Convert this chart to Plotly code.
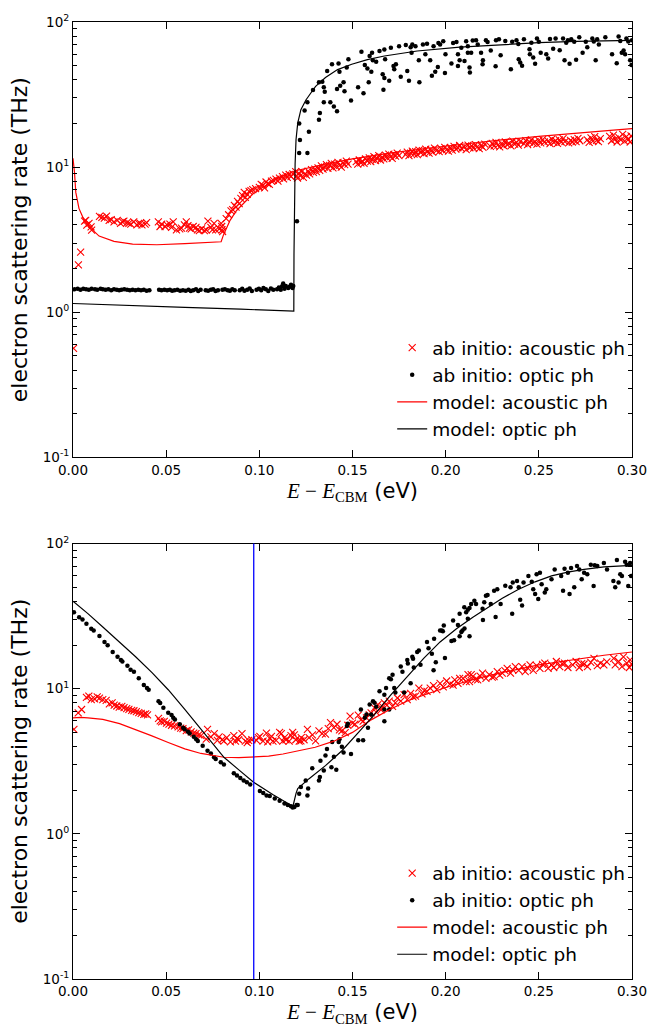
import plotly.graph_objects as go

FONT = "DejaVu Sans"

# ---------------- data: top panel ----------------
top_ac_abinitio = [
    (0.0003, 0.565), (0.0029, 2.12), (0.0041, 2.6), (0.0062, 4.24), (0.0068, 4.3), (0.0074, 3.98),
    (0.0086, 4.1), (0.0097, 3.88), (0.0100, 3.68), (0.0142, 4.58), (0.0155, 4.5), (0.0168, 4.45),
    (0.0180, 4.6), (0.0194, 4.3), (0.0205, 4.35), (0.0220, 4.2), (0.0237, 4.3), (0.0255, 4.1),
    (0.0265, 4.2), (0.0273, 4.25), (0.0290, 4.15), (0.0300, 4.1), (0.0310, 4.05), (0.0326, 4.2),
    (0.0343, 4.0), (0.0352, 4.1), (0.0361, 4.1), (0.0370, 4.0), (0.0387, 4.05), (0.0395, 4.15),
    (0.0458, 4.2), (0.0467, 3.9), (0.0476, 4.05), (0.0494, 3.9), (0.0505, 4.0), (0.0520, 4.05),
    (0.0529, 3.85), (0.0538, 4.2), (0.0555, 3.7), (0.0573, 3.75), (0.0582, 3.8), (0.0598, 4.0),
    (0.0608, 4.2), (0.0617, 3.95), (0.0625, 3.8), (0.0634, 3.75), (0.0645, 3.9), (0.0660, 3.85),
    (0.0668, 3.7), (0.0678, 3.65), (0.0690, 3.75), (0.0705, 3.65), (0.0715, 3.7), (0.0724, 4.25),
    (0.0740, 3.85), (0.0748, 3.7), (0.0757, 4.1), (0.0766, 3.7), (0.0785, 3.75), (0.0795, 4.1),
    (0.0798, 3.9), (0.0800, 3.7), (0.0803, 3.6),
    (0.0822, 4.42), (0.0835, 4.7), (0.0848, 5.0), (0.0857, 5.1), (0.0866, 5.45), (0.0875, 5.3),
    (0.0883, 5.8), (0.0892, 5.6), (0.0901, 6.1), (0.0910, 6.37), (0.0919, 6.7), (0.0925, 6.2),
    (0.0935, 6.5), (0.0945, 6.8), (0.0955, 6.9), (0.0965, 7.0), (0.0980, 7.1), (0.1000, 7.26),
    (0.1010, 7.6), (0.1019, 7.5), (0.1028, 7.2), (0.1036, 7.9), (0.1045, 7.7), (0.1054, 7.6),
    (0.1065, 8.0), (0.1075, 8.1), (0.1089, 8.28), (0.1100, 8.0), (0.1108, 8.4), (0.1124, 8.6),
    (0.1130, 8.3), (0.1142, 8.8), (0.1150, 8.5), (0.1160, 8.9), (0.1170, 8.6), (0.1180, 9.0),
    (0.1195, 9.3), (0.1200, 8.7),
    (0.1205, 8.4), (0.1212, 9.1), (0.1220, 8.7), (0.1228, 9.3), (0.1236, 8.5), (0.1245, 9.0),
    (0.1253, 8.8), (0.1262, 9.4), (0.1270, 9.0), (0.1280, 9.6), (0.1290, 9.2), (0.1298, 9.7),
    (0.1306, 9.3), (0.1315, 9.9), (0.1324, 9.5), (0.1333, 10.2), (0.1342, 9.7), (0.1350, 10.0),
    (0.1360, 10.4), (0.1368, 9.8), (0.1377, 10.3), (0.1386, 10.6), (0.1395, 9.9), (0.1404, 10.5),
    (0.1413, 10.1), (0.1422, 10.8), (0.1431, 10.3), (0.1440, 10.0), (0.1449, 10.7), (0.1458, 10.4),
    (0.1467, 11.0), (0.1476, 10.5),
    (0.1520, 10.9), (0.1528, 10.5), (0.1536, 11.2), (0.1545, 10.7), (0.1553, 11.0), (0.1562, 10.6),
    (0.1570, 11.4), (0.1580, 11.0), (0.1590, 11.6), (0.1598, 10.9), (0.1606, 11.3), (0.1615, 11.8),
    (0.1624, 11.1), (0.1632, 11.5), (0.1641, 12.0), (0.1650, 11.2), (0.1659, 11.7), (0.1668, 11.4),
    (0.1677, 12.1), (0.1686, 11.6), (0.1695, 12.3), (0.1704, 11.8), (0.1713, 11.5), (0.1722, 12.2),
    (0.1731, 11.9), (0.1740, 12.5), (0.1749, 12.0),
    (0.1785, 12.2), (0.1794, 12.7), (0.1803, 12.0), (0.1812, 12.5), (0.1821, 12.9), (0.1830, 12.3),
    (0.1839, 12.8), (0.1848, 12.2), (0.1857, 13.1), (0.1866, 12.6), (0.1875, 13.0), (0.1884, 12.4),
    (0.1893, 13.3), (0.1902, 12.8), (0.1911, 12.5), (0.1920, 13.2), (0.1930, 12.7), (0.1940, 13.5),
    (0.1950, 13.0),
    (0.1965, 12.8), (0.1975, 13.4), (0.1985, 13.0), (0.1995, 13.7), (0.2005, 13.2), (0.2015, 12.9),
    (0.2025, 13.6), (0.2035, 13.1), (0.2045, 13.9), (0.2055, 13.3), (0.2065, 13.6), (0.2075, 14.1),
    (0.2085, 13.4),
    (0.2100, 13.8), (0.2110, 13.2), (0.2120, 14.2), (0.2130, 13.6), (0.2140, 14.0), (0.2150, 13.5),
    (0.2160, 14.3), (0.2170, 13.8), (0.2180, 13.4), (0.2190, 14.1), (0.2200, 13.7), (0.2210, 14.4),
    (0.2240, 13.9), (0.2250, 14.6), (0.2260, 14.0), (0.2270, 14.8), (0.2280, 14.2), (0.2290, 13.8),
    (0.2300, 14.5), (0.2310, 14.1), (0.2320, 14.9), (0.2330, 14.3), (0.2340, 14.6), (0.2350, 14.0),
    (0.2360, 15.1), (0.2370, 14.4), (0.2380, 14.8), (0.2390, 14.2), (0.2400, 15.0),
    (0.2420, 14.5), (0.2430, 15.2), (0.2440, 14.3), (0.2450, 14.9), (0.2460, 15.4), (0.2470, 14.6),
    (0.2480, 15.0), (0.2490, 14.4), (0.2500, 15.3), (0.2510, 14.7), (0.2520, 15.5), (0.2530, 14.9),
    (0.2550, 15.1), (0.2560, 14.5), (0.2570, 15.6), (0.2580, 14.8), (0.2590, 15.2), (0.2600, 14.6),
    (0.2610, 15.4), (0.2620, 14.9), (0.2630, 15.7), (0.2640, 15.0),
    (0.2660, 14.7), (0.2670, 15.3), (0.2680, 14.9), (0.2690, 15.5), (0.2700, 15.0), (0.2710, 15.8),
    (0.2720, 15.2),
    (0.2760, 15.4), (0.2770, 14.8), (0.2780, 15.9), (0.2790, 15.1), (0.2800, 16.2), (0.2810, 15.3),
    (0.2820, 15.0), (0.2830, 15.7),
    (0.2880, 16.3), (0.2890, 15.2), (0.2900, 16.6), (0.2910, 15.6), (0.2920, 14.9), (0.2930, 16.0),
    (0.2940, 15.4), (0.2950, 16.8), (0.2960, 15.1), (0.2970, 16.2), (0.2980, 15.5), (0.2990, 14.9),
    (0.2995, 16.4),
]

top_op_abinitio = [
    (0.0008, 1.44), (0.0025, 1.45), (0.0040, 1.43), (0.0055, 1.45), (0.0070, 1.44), (0.0085, 1.43),
    (0.0100, 1.45), (0.0118, 1.44), (0.0130, 1.43), (0.0148, 1.45), (0.0160, 1.44), (0.0175, 1.43),
    (0.0190, 1.44), (0.0205, 1.42), (0.0220, 1.44), (0.0235, 1.43), (0.0248, 1.42), (0.0260, 1.43),
    (0.0275, 1.44), (0.0290, 1.43), (0.0305, 1.42), (0.0320, 1.43), (0.0335, 1.42), (0.0350, 1.43),
    (0.0365, 1.42), (0.0380, 1.43), (0.0395, 1.41), (0.0410, 1.42), (0.0462, 1.43), (0.0475, 1.42),
    (0.0490, 1.43), (0.0505, 1.42), (0.0520, 1.43), (0.0532, 1.41), (0.0545, 1.42), (0.0560, 1.43),
    (0.0575, 1.41), (0.0590, 1.42), (0.0605, 1.41), (0.0620, 1.43), (0.0632, 1.40), (0.0645, 1.42),
    (0.0660, 1.44), (0.0672, 1.40), (0.0685, 1.43), (0.0712, 1.42), (0.0725, 1.41), (0.0740, 1.43),
    (0.0752, 1.44), (0.0765, 1.40), (0.0778, 1.42), (0.0802, 1.43), (0.0815, 1.44), (0.0830, 1.42),
    (0.0842, 1.41), (0.0855, 1.44), (0.0868, 1.42), (0.0895, 1.42), (0.0908, 1.45), (0.0920, 1.41),
    (0.0935, 1.43), (0.0948, 1.46), (0.0960, 1.40), (0.0985, 1.43), (0.0998, 1.45), (0.1010, 1.42),
    (0.1022, 1.47), (0.1035, 1.44), (0.1048, 1.40), (0.1062, 1.46), (0.1075, 1.43), (0.1095, 1.44),
    (0.1105, 1.48), (0.1115, 1.43), (0.1122, 1.51), (0.1128, 1.58), (0.1135, 1.45), (0.1142, 1.52),
    (0.1155, 1.47), (0.1162, 1.50), (0.1170, 1.55), (0.1178, 1.47), (0.1182, 1.52), (0.1202, 4.24),
    (0.1214, 12.5), (0.1218, 15.4), (0.1214, 20.0), (0.1243, 24.6), (0.1258, 12.5), (0.1266, 17.5),
    (0.1258, 28.0), (0.1288, 34.0), (0.1320, 21.2), (0.1325, 23.6), (0.1320, 38.4), (0.1338, 38.8),
    (0.1346, 35.5), (0.1351, 33.1), (0.1346, 28.0), (0.1364, 46.0), (0.1381, 28.0), (0.1390, 51.2),
    (0.1400, 26.2), (0.1417, 24.3), (0.1417, 34.5), (0.1425, 51.7), (0.1430, 45.5), (0.1434, 36.4),
    (0.1452, 38.4), (0.1457, 33.3), (0.1469, 48.5), (0.1478, 55.3), (0.1492, 28.8), (0.1530, 35.5),
    (0.1548, 62.4), (0.1559, 32.3), (0.1566, 50.6), (0.1580, 47.8), (0.1587, 38.4), (0.1592, 58.3),
    (0.1601, 45.5), (0.1605, 61.4), (0.1609, 54.5), (0.1627, 53.3), (0.1645, 63.1), (0.1662, 43.7),
    (0.1666, 34.2), (0.1671, 41.1), (0.1671, 64.7), (0.1675, 55.3), (0.1697, 39.4), (0.1706, 66.4),
    (0.1720, 49.8), (0.1724, 47.3), (0.1733, 51.2), (0.1750, 68.2), (0.1759, 41.9), (0.1786, 69.3),
    (0.1794, 46.0), (0.1803, 39.4), (0.1812, 67.1), (0.1817, 61.4), (0.1821, 70.0), (0.1838, 68.0),
    (0.1856, 54.5), (0.1859, 38.4), (0.1878, 70.0), (0.1891, 59.9), (0.1900, 70.8), (0.1917, 54.5),
    (0.1926, 42.6), (0.1935, 68.0), (0.1944, 45.5), (0.1958, 49.0), (0.1961, 71.8), (0.1970, 70.0),
    (0.1987, 73.8), (0.1996, 44.5), (0.1999, 59.9), (0.2031, 51.7), (0.2040, 71.8),
    (0.2058, 72.9), (0.2066, 59.9), (0.2075, 54.5), (0.2066, 49.8), (0.2084, 66.4), (0.2101, 53.9),
    (0.2110, 73.8), (0.2119, 68.0), (0.2119, 61.4), (0.2128, 48.5), (0.2130, 44.9), (0.2137, 61.4),
    (0.2145, 74.6), (0.2163, 75.0), (0.2172, 70.0), (0.2190, 61.4), (0.2198, 51.2), (0.2200, 54.5),
    (0.2216, 75.0), (0.2225, 72.9), (0.2242, 63.7), (0.2268, 49.5), (0.2270, 75.0), (0.2286, 76.0),
    (0.2295, 59.0), (0.2320, 74.0), (0.2350, 47.3), (0.2357, 73.0), (0.2380, 75.0), (0.2390, 70.5),
    (0.2392, 55.3), (0.2400, 52.5), (0.2410, 50.0), (0.2420, 76.0), (0.2450, 65.0), (0.2452, 60.0),
    (0.2460, 72.0), (0.2470, 57.0), (0.2480, 51.5), (0.2490, 77.0), (0.2500, 73.0), (0.2510, 61.4),
    (0.2540, 60.0), (0.2550, 56.0), (0.2560, 76.5), (0.2577, 65.5), (0.2590, 77.0), (0.2612, 64.0),
    (0.2630, 77.0), (0.2638, 54.5), (0.2647, 72.0), (0.2656, 75.0), (0.2665, 51.5), (0.2674, 76.0),
    (0.2690, 73.0), (0.2700, 55.0), (0.2717, 78.4), (0.2735, 61.4), (0.2752, 73.0), (0.2760, 67.0),
    (0.2787, 77.0), (0.2795, 73.5), (0.2805, 54.5), (0.2813, 76.0), (0.2822, 70.0), (0.2857, 78.4),
    (0.2893, 60.0), (0.2918, 52.0), (0.2928, 79.5), (0.2937, 74.0), (0.2945, 61.4), (0.2955, 63.7),
    (0.2963, 60.0), (0.2970, 77.0), (0.2980, 73.5), (0.2990, 54.5), (0.2997, 50.5), (0.3000, 75.0),
]

top_ac_model_x = [0.0, 0.0008, 0.0015, 0.0032, 0.006, 0.0095, 0.014, 0.022, 0.032, 0.045, 0.06,
                  0.07, 0.0795, 0.0807, 0.0825, 0.0843, 0.0878, 0.0922, 0.0966, 0.1019, 0.1107,
                  0.1195, 0.1353, 0.15, 0.17, 0.19, 0.21, 0.23, 0.25, 0.27, 0.29, 0.3]
top_ac_model_y = [11.5, 9.2, 6.7, 5.2, 4.3, 3.8, 3.35, 3.08, 2.95, 2.92, 2.97,
                  3.01, 3.06, 3.4, 3.88, 4.3, 5.03, 5.74, 6.55, 7.26, 8.5,
                  9.44, 10.5, 11.4, 12.5, 13.5, 14.5, 15.4, 16.3, 17.2, 18.0, 18.4]

top_op_model_x = [0.0, 0.03, 0.06, 0.09, 0.1185, 0.1186, 0.1188, 0.1192, 0.1197, 0.1206, 0.1223,
                  0.125, 0.1285, 0.1302, 0.1355, 0.142, 0.1496, 0.158, 0.1671, 0.1847, 0.2076,
                  0.23, 0.25, 0.27, 0.3]
top_op_model_y = [1.15, 1.11, 1.08, 1.05, 1.02, 2.5, 6.0, 10.5, 15.5, 20.1, 24.9,
                  29.0, 33.6, 36.0, 41.5, 47.0, 51.2, 55.0, 58.3, 63.1, 67.1,
                  70.0, 72.0, 73.5, 74.6]

# ---------------- data: bottom panel ----------------
bot_ac_abinitio = [
    (0.0005, 5.25), (0.0028, 6.82), (0.0046, 7.19), (0.0072, 8.73), (0.0098, 8.41), (0.0116, 8.5),
    (0.0085, 8.9), (0.0130, 8.8), (0.0142, 8.6), (0.0160, 8.4), (0.0178, 8.3), (0.0195, 7.85),
    (0.0210, 8.0), (0.0221, 7.7), (0.0235, 7.6), (0.0248, 7.46), (0.0262, 7.55), (0.0274, 7.4),
    (0.0288, 7.3), (0.0300, 7.2), (0.0315, 7.1), (0.0327, 7.05), (0.0340, 6.95), (0.0353, 6.85),
    (0.0366, 6.75), (0.0380, 6.65), (0.0390, 6.7), (0.0400, 6.6), (0.0459, 6.24), (0.0468, 6.0),
    (0.0476, 5.9), (0.0490, 5.95), (0.0502, 5.8), (0.0515, 5.7), (0.0529, 5.6), (0.0545, 5.55),
    (0.0564, 5.45), (0.0578, 5.35), (0.0590, 5.3), (0.0608, 5.15), (0.0620, 5.2), (0.0634, 5.05),
    (0.0648, 4.95), (0.0660, 4.9), (0.0675, 4.8), (0.0687, 4.75), (0.0715, 4.5), (0.0722, 5.25),
    (0.0740, 4.65), (0.0758, 4.9), (0.0775, 4.4), (0.0784, 4.65), (0.0801, 4.45), (0.0810, 4.35),
    (0.0825, 4.6), (0.0845, 4.3), (0.0863, 4.75), (0.0872, 4.35), (0.0880, 4.55), (0.0889, 4.45),
    (0.0907, 4.9), (0.0925, 4.35), (0.0935, 4.25), (0.0942, 4.4), (0.0960, 4.45), (0.0985, 4.4),
    (0.0995, 4.6), (0.1003, 4.7), (0.1020, 4.35), (0.1038, 4.95), (0.1045, 4.3), (0.1056, 4.55),
    (0.1065, 4.7), (0.1073, 4.35), (0.1090, 4.4), (0.1109, 5.0), (0.1118, 4.9), (0.1126, 4.35),
    (0.1135, 4.6), (0.1143, 4.45), (0.1160, 4.35), (0.1170, 4.75), (0.1179, 5.0), (0.1188, 4.8),
    (0.1196, 4.45), (0.1214, 4.35), (0.1223, 4.37), (0.1225, 4.6), (0.1240, 4.45), (0.1258, 5.25),
    (0.1267, 4.6), (0.1285, 4.8), (0.1302, 4.37), (0.1320, 5.12), (0.1337, 4.9), (0.1355, 4.86),
    (0.1370, 5.3), (0.1382, 5.83), (0.1400, 5.39), (0.1417, 5.69), (0.1430, 5.2), (0.1443, 5.12),
    (0.1461, 4.98), (0.1475, 5.6), (0.1487, 6.47), (0.1500, 5.8), (0.1513, 5.69), (0.1531, 6.58),
    (0.1545, 6.1), (0.1557, 5.98), (0.1575, 6.3), (0.1590, 6.6), (0.1600, 6.82), (0.1618, 7.38),
    (0.1627, 6.9), (0.1636, 7.78), (0.1653, 7.15), (0.1662, 7.5), (0.1671, 7.98), (0.1685, 7.7),
    (0.1697, 8.2), (0.1715, 7.55), (0.1730, 8.0), (0.1741, 8.63), (0.1759, 8.2), (0.1777, 9.1),
    (0.1794, 8.4), (0.1812, 9.3), (0.1825, 8.8), (0.1838, 8.9), (0.1856, 10.1), (0.1873, 9.2),
    (0.1885, 9.7), (0.1900, 9.6), (0.1917, 10.1), (0.1935, 10.5), (0.1952, 9.85), (0.1970, 10.9),
    (0.1987, 10.3), (0.2005, 11.3), (0.2023, 10.75), (0.2040, 10.6), (0.2049, 11.5), (0.2066, 10.9),
    (0.2075, 11.8), (0.2093, 11.8), (0.2110, 11.2), (0.2120, 12.5), (0.2128, 11.2), (0.2137, 12.5),
    (0.2145, 12.1), (0.2160, 11.6), (0.2172, 11.5), (0.2185, 12.2), (0.2198, 12.8), (0.2216, 11.8),
    (0.2234, 12.5), (0.2250, 12.0), (0.2260, 12.1), (0.2277, 13.1), (0.2290, 12.4), (0.2304, 12.8),
    (0.2318, 13.3), (0.2330, 13.8), (0.2348, 12.8), (0.2360, 13.5), (0.2374, 14.2), (0.2392, 13.4),
    (0.2410, 14.2), (0.2427, 13.1), (0.2440, 13.9), (0.2453, 14.6), (0.2470, 13.4), (0.2488, 14.4),
    (0.2506, 13.8), (0.2520, 14.7), (0.2532, 15.0), (0.2550, 13.8), (0.2568, 14.6), (0.2580, 14.0),
    (0.2594, 15.4), (0.2612, 14.2), (0.2625, 14.9), (0.2638, 15.0), (0.2656, 14.0), (0.2682, 14.6),
    (0.2700, 15.4), (0.2717, 14.0), (0.2730, 14.9), (0.2743, 14.8), (0.2761, 14.2), (0.2779, 15.2),
    (0.2796, 16.2), (0.2814, 14.4), (0.2831, 15.0), (0.2849, 14.6), (0.2865, 15.3), (0.2902, 16.2),
    (0.2910, 14.6), (0.2928, 15.4), (0.2946, 14.2), (0.2954, 16.6), (0.2972, 15.0), (0.2986, 14.0),
    (0.2990, 15.8), (0.2998, 14.8),
]

bot_op_abinitio = [
    (0.0005, 33.6), (0.0033, 31.1), (0.0051, 30.0), (0.0072, 28.0), (0.0098, 25.9), (0.0111, 25.2),
    (0.0142, 23.1), (0.0169, 21.0), (0.0186, 19.9), (0.0213, 17.9), (0.0239, 16.6), (0.0257, 15.8),
    (0.0265, 15.4), (0.0292, 14.4), (0.0309, 13.5), (0.0327, 13.1), (0.0353, 11.8), (0.0380, 10.6),
    (0.0397, 10.1), (0.0406, 9.84), (0.0459, 8.19), (0.0468, 7.98), (0.0485, 7.38), (0.0511, 6.82),
    (0.0529, 6.58), (0.0538, 6.3), (0.0547, 6.14), (0.0573, 5.68), (0.0591, 5.39), (0.0599, 5.25),
    (0.0617, 5.06), (0.0626, 4.91), (0.0648, 4.66), (0.0661, 4.49), (0.0670, 4.37), (0.0696, 4.05),
    (0.0722, 3.74), (0.0740, 3.58), (0.0757, 3.37), (0.0766, 3.28), (0.0793, 3.11), (0.0810, 3.0),
    (0.0863, 2.62), (0.0880, 2.52), (0.0898, 2.43), (0.0916, 2.33), (0.0933, 2.27), (0.0951, 2.19),
    (0.1003, 1.97), (0.1021, 1.91), (0.1039, 1.84), (0.1056, 1.82), (0.1083, 1.75), (0.1109, 1.69),
    (0.1135, 1.62), (0.1153, 1.58), (0.1170, 1.55), (0.1179, 1.52), (0.1200, 1.58),
    (0.1188, 1.53), (0.1206, 1.58), (0.1214, 1.89), (0.1223, 2.1), (0.1258, 1.84), (0.1262, 2.05),
    (0.1249, 2.33), (0.1284, 2.83), (0.1320, 2.33), (0.1325, 2.46), (0.1328, 3.19), (0.1346, 2.73),
    (0.1355, 3.46), (0.1363, 3.84), (0.1387, 2.88), (0.1400, 3.4), (0.1413, 2.76), (0.1391, 4.3),
    (0.1426, 4.3), (0.1430, 4.49), (0.1443, 3.98), (0.1452, 3.64), (0.1470, 5.53), (0.1475, 5.74),
    (0.1492, 3.55), (0.1531, 4.42), (0.1557, 4.42), (0.1545, 7.19), (0.1566, 6.3), (0.1575, 6.65),
    (0.1583, 5.39), (0.1600, 6.65), (0.1592, 7.78), (0.1610, 8.19), (0.1618, 8.0), (0.1627, 7.5),
    (0.1645, 9.6), (0.1671, 9.1), (0.1671, 7.19), (0.1671, 5.98), (0.1680, 10.1), (0.1697, 11.8),
    (0.1706, 11.6), (0.1715, 12.5), (0.1697, 7.19), (0.1724, 10.1), (0.1730, 9.4), (0.1759, 14.2),
    (0.1768, 13.1), (0.1777, 9.4), (0.1794, 15.8), (0.1797, 14.9), (0.1812, 10.9), (0.1821, 16.6),
    (0.1825, 16.1), (0.1829, 14.0), (0.1847, 17.9), (0.1856, 18.3), (0.1865, 14.6), (0.1900, 21.0),
    (0.1908, 19.0), (0.1926, 17.4), (0.1935, 13.4), (0.1938, 22.1), (0.1947, 15.2), (0.1970, 25.2),
    (0.1979, 25.2), (0.1985, 24.9), (0.1990, 27.3), (0.1996, 16.3), (0.2031, 21.3), (0.2040, 29.5),
    (0.2066, 27.5), (0.2075, 23.0), (0.2090, 25.2), (0.2101, 26.0), (0.2110, 33.6), (0.2119, 35.0),
    (0.2128, 36.0), (0.2137, 38.4), (0.2119, 30.3), (0.2045, 21.6), (0.2084, 24.6), (0.2075, 32.8),
    (0.2100, 36.4), (0.2128, 23.0), (0.2154, 40.4), (0.2163, 38.4), (0.2198, 35.5), (0.2200, 29.7),
    (0.2207, 39.4), (0.2216, 43.7), (0.2225, 44.2), (0.2242, 38.4), (0.2260, 47.3), (0.2268, 31.2),
    (0.2277, 48.5), (0.2295, 38.4), (0.2320, 51.2), (0.2348, 50.0), (0.2357, 32.8), (0.2360, 53.9),
    (0.2383, 55.3), (0.2392, 50.0), (0.2400, 41.0), (0.2410, 37.5), (0.2418, 53.9), (0.2444, 59.9),
    (0.2462, 54.5), (0.2470, 48.5), (0.2480, 45.0), (0.2488, 61.4), (0.2497, 41.5), (0.2506, 63.0),
    (0.2515, 52.5), (0.2532, 46.0), (0.2540, 48.5), (0.2568, 56.8), (0.2585, 66.4), (0.2620, 59.9),
    (0.2630, 47.3), (0.2638, 67.0), (0.2656, 63.0), (0.2665, 45.0), (0.2673, 68.0), (0.2690, 50.0),
    (0.2705, 70.0), (0.2717, 66.4), (0.2730, 56.8), (0.2743, 63.0), (0.2760, 61.4), (0.2779, 71.6),
    (0.2794, 51.0), (0.2800, 71.0), (0.2814, 70.0), (0.2849, 73.5), (0.2866, 66.4), (0.2900, 55.3),
    (0.2910, 50.0), (0.2919, 77.0), (0.2928, 53.9), (0.2937, 61.4), (0.2946, 59.9), (0.2963, 75.0),
    (0.2972, 71.6), (0.2980, 51.0), (0.2990, 73.5), (0.2995, 59.9),
]

bot_ac_model_x = [0.0, 0.004, 0.008, 0.016, 0.025, 0.0336, 0.042, 0.0511, 0.06, 0.0687, 0.075,
                  0.081, 0.089, 0.097, 0.105, 0.1127, 0.12, 0.13, 0.14, 0.15, 0.16, 0.17, 0.18,
                  0.19, 0.2, 0.215, 0.23, 0.25, 0.27, 0.285, 0.3]
bot_ac_model_y = [6.3, 6.35, 6.3, 6.15, 5.75, 5.25, 4.75, 4.26, 3.85, 3.58, 3.45,
                  3.37, 3.35, 3.37, 3.43, 3.55, 3.7, 3.95, 4.35, 5.0, 6.1, 7.2, 8.3,
                  9.2, 10.2, 11.6, 12.9, 14.6, 16.0, 17.0, 17.9]

bot_op_model_x = [0.0, 0.008, 0.016, 0.025, 0.0336, 0.0424, 0.0511, 0.06, 0.0687, 0.075, 0.081,
                  0.089, 0.0969, 0.1074, 0.1179, 0.1183, 0.1188, 0.1197, 0.1206, 0.1232, 0.1267,
                  0.1355, 0.1443, 0.1531, 0.1619, 0.1707, 0.1794, 0.1882, 0.197, 0.2058, 0.2146,
                  0.2216, 0.2304, 0.2392, 0.248, 0.2568, 0.2655, 0.2743, 0.285, 0.3]
bot_op_model_y = [40.0, 32.9, 26.6, 21.0, 16.6, 12.9, 9.84, 7.2, 5.25, 4.18, 3.37,
                  2.76, 2.27, 1.86, 1.55, 1.6, 1.72, 1.9, 2.05, 2.2, 2.4,
                  2.95, 3.74, 4.98, 6.65, 9.1, 12.1, 16.2, 21.0, 25.9, 31.1,
                  35.4, 42.0, 48.5, 54.5, 59.9, 63.5, 66.4, 69.0, 70.7]

marker_line_x = 0.097

x_ticks = [0.0, 0.05, 0.10, 0.15, 0.20, 0.25, 0.30]
y_ticks = [0.1, 1, 10, 100]
y_ticktext = ["10<sup>-1</sup>", "10<sup>0</sup>", "10<sup>1</sup>", "10<sup>2</sup>"]
y_minor = [0.2, 0.3, 0.4, 0.5, 0.6, 0.7, 0.8, 0.9, 2, 3, 4, 5, 6, 7, 8, 9,
           20, 30, 40, 50, 60, 70, 80, 90]

names = ["ab initio: acoustic ph", "ab initio: optic ph", "model: acoustic ph", "model: optic ph"]


def unzip(pts):
    return [p[0] for p in pts], [p[1] for p in pts]


fig = go.Figure()


def add_panel(xa, ya, leg, ac_pts, op_pts, acm_x, acm_y, opm_x, opm_y):
    ax, ay = unzip(ac_pts)
    ox, oy = unzip(op_pts)
    fig.add_trace(go.Scatter(x=ax, y=ay, mode="markers", name=names[0],
                             marker=dict(symbol="x-thin", size=7, color="red",
                                         line=dict(color="red", width=1.1)),
                             xaxis=xa, yaxis=ya, legend=leg))
    fig.add_trace(go.Scatter(x=ox, y=oy, mode="markers", name=names[1],
                             marker=dict(symbol="circle", size=4.5, color="black",
                                         line=dict(width=0)),
                             xaxis=xa, yaxis=ya, legend=leg))
    fig.add_trace(go.Scatter(x=acm_x, y=acm_y, mode="lines", name=names[2],
                             line=dict(color="red", width=1.2),
                             xaxis=xa, yaxis=ya, legend=leg))
    fig.add_trace(go.Scatter(x=opm_x, y=opm_y, mode="lines", name=names[3],
                             line=dict(color="black", width=1.2),
                             xaxis=xa, yaxis=ya, legend=leg))


add_panel("x", "y", "legend", top_ac_abinitio, top_op_abinitio,
          top_ac_model_x, top_ac_model_y, top_op_model_x, top_op_model_y)
add_panel("x2", "y2", "legend2", bot_ac_abinitio, bot_op_abinitio,
          bot_ac_model_x, bot_ac_model_y, bot_op_model_x, bot_op_model_y)

fig.add_shape(type="line", xref="x2", yref="y2 domain", x0=marker_line_x, x1=marker_line_x,
              y0=0, y1=1, line=dict(color="blue", width=1.3))

xtitle = ("<span style=\"font-family:'Liberation Serif'\"><i>E</i> \u2212 <i>E</i>"
          "<sub>CBM</sub></span> (eV)")


def xaxis_cfg(anchor):
    return dict(anchor=anchor, domain=[0, 1], range=[0, 0.3], tickvals=x_ticks,
                tickformat=".2f", ticks="inside", ticklen=7, tickwidth=1, tickcolor="black",
                showline=True, linecolor="black", linewidth=1, mirror="allticks",
                showgrid=False, zeroline=False, tickfont=dict(size=13.5),
                title=dict(text=xtitle, font=dict(size=21), standoff=6))


def yaxis_cfg(anchor, domain):
    return dict(anchor=anchor, domain=domain, type="log", range=[-1, 2],
                tickvals=y_ticks, ticktext=y_ticktext, ticks="inside", ticklen=7,
                tickwidth=1, tickcolor="black", showline=True, linecolor="black",
                linewidth=1, mirror="allticks", showgrid=False, zeroline=False,
                tickfont=dict(size=13.5),
                minor=dict(ticks="inside", ticklen=4, tickvals=y_minor, tickcolor="black",
                           showgrid=False),
                title=dict(text="electron scattering rate (THz)", font=dict(size=22),
                           standoff=8))


legend_common = dict(xanchor="left", yanchor="top", bgcolor="rgba(0,0,0,0)",
                     borderwidth=0, font=dict(size=18.5, family=FONT), traceorder="normal")

fig.update_layout(
    width=659, height=1032,
    margin=dict(l=73, r=17, t=14, b=51),
    paper_bgcolor="white", plot_bgcolor="white",
    font=dict(family=FONT, color="black", size=13.5),
    showlegend=True,
    xaxis=xaxis_cfg("y"),
    yaxis=yaxis_cfg("x", [0.545, 1.0]),
    xaxis2=xaxis_cfg("y2"),
    yaxis2=yaxis_cfg("x2", [0.0, 0.455]),
    legend=dict(x=0.571, y=0.679, **legend_common),
    legend2=dict(x=0.571, y=0.130, **legend_common),
)

fig.write_html("out.html")
